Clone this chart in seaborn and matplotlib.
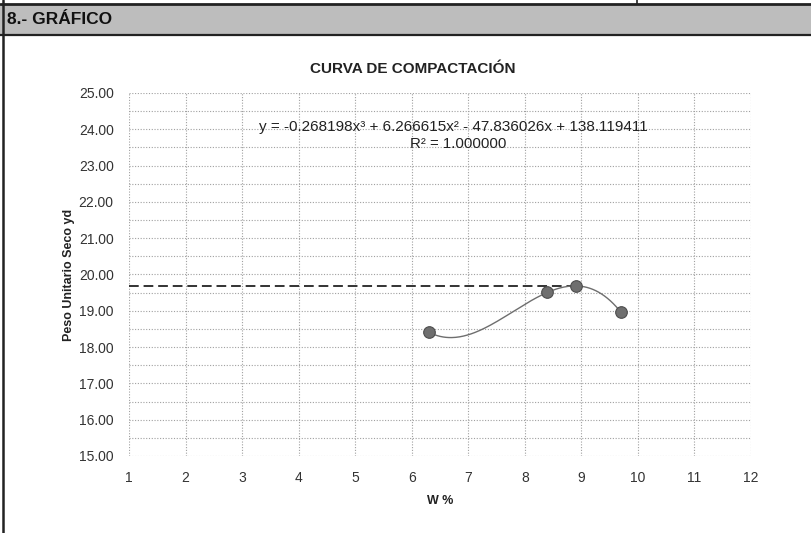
import numpy as np
import pandas as pd
import matplotlib
matplotlib.use("Agg")
import matplotlib.pyplot as plt
from matplotlib.lines import Line2D
from matplotlib.patches import Rectangle
import seaborn as sns

# Ensayo Proctor: humedad (%) y peso unitario seco
humedad = [6.3, 8.4, 8.9, 9.7]
peso_seco = [18.41, 19.51, 19.69, 18.96]

# Coeficientes de la línea de tendencia polinómica (grado 3)
coef = [-0.268198, 6.266615, -47.836026, 138.119411]
r2 = 1.000000

# Máxima densidad seca
peso_max = 19.69
hum_opt = 8.9

x_ticks = list(range(1, 13))
y_ticks = [15, 16, 17, 18, 19, 20, 21, 22, 23, 24, 25]

sns.set_theme(style="white")
plt.rcParams["font.family"] = ["Liberation Sans", "DejaVu Sans"]

W, H = 811, 533
fig = plt.figure(figsize=(W / 100, H / 100), dpi=100)
fig.patch.set_facecolor("white")

def fx(px):
    return px / W

def fy(py):
    return 1 - py / H

# Encabezado de la sección
fig.patches.append(Rectangle((0, fy(35)), 1, fy(4) - fy(35), transform=fig.transFigure,
                             facecolor="#bdbdbd", edgecolor="none", zorder=0))
for yy, lw in [(4, 2.0), (35, 1.6)]:
    fig.add_artist(Line2D([0, 1], [fy(yy), fy(yy)], color="#222222", lw=lw))
fig.add_artist(Line2D([fx(3), fx(3)], [0, 1], color="#222222", lw=1.8))
fig.add_artist(Line2D([fx(637), fx(637)], [fy(0), fy(4)], color="#222222", lw=1.2))
fig.text(fx(7), fy(20), "8.- GRÁFICO", fontsize=12.5, fontweight="bold",
         ha="left", va="center", color="#111111")

ax = fig.add_axes([fx(129), fy(456), fx(751) - fx(129), fy(93) - fy(456)])
ax.set_facecolor("none")

data = pd.DataFrame({"w": humedad, "yd": peso_seco})
xs = np.linspace(min(humedad), max(humedad), 200)
curva = pd.DataFrame({"w": xs, "yd": np.polyval(coef, xs)})

# Línea de máxima densidad seca
ax.plot([x_ticks[0], hum_opt], [peso_max, peso_max], color="#333333", lw=1.4,
        dashes=(5, 2.5), zorder=3)

sns.lineplot(data=curva, x="w", y="yd", ax=ax, color="#6e6e6e", lw=1.0,
             sort=True, zorder=4)
sns.scatterplot(data=data, x="w", y="yd", ax=ax, color="#6f6f6f", s=70,
                edgecolor="#4d4d4d", linewidth=0.8, zorder=5)

ax.set_xlim(1, 12)
ax.set_ylim(15, 25)
ax.set_xticks(x_ticks)
ax.set_yticks(y_ticks)
ax.set_yticks(np.arange(15.5, 25, 1.0), minor=True)
ax.set_yticklabels([f"{v:.2f}" for v in y_ticks])
ax.set_xticklabels([str(v) for v in x_ticks])

ax.grid(True, which="major", axis="both", color="#a0a0a0", lw=0.8, ls=(0, (1, 1.5)))
ax.grid(True, which="minor", axis="y", color="#a0a0a0", lw=0.8, ls=(0, (1, 1.5)))
for s in ax.spines.values():
    s.set_visible(False)

ax.tick_params(axis="both", which="both", length=0, labelsize=10, labelcolor="#333333")
ax.tick_params(axis="y", pad=11)
ax.tick_params(axis="x", pad=11)

ax.set_xlabel("W %", fontsize=9, fontweight="bold", color="#222222", labelpad=7)
ax.set_ylabel("Peso Unitario Seco yd", fontsize=9, fontweight="bold", color="#222222",
              labelpad=3)

fig.text(fx(413), fy(69), "CURVA DE COMPACTACIÓN", fontsize=11, fontweight="bold",
         ha="center", va="center", color="#222222")

eq = (f"y = {coef[0]:.6f}x³ + {coef[1]:.6f}x² - {abs(coef[2]):.6f}x + {coef[3]:.6f}")
fig.text(fx(453), fy(127), eq, fontsize=11, ha="center", va="center", color="#222222")
fig.text(fx(458), fy(144), f"R² = {r2:.6f}", fontsize=10.8, ha="center", va="center",
         color="#222222")

fig.savefig("out.png", dpi=100)
